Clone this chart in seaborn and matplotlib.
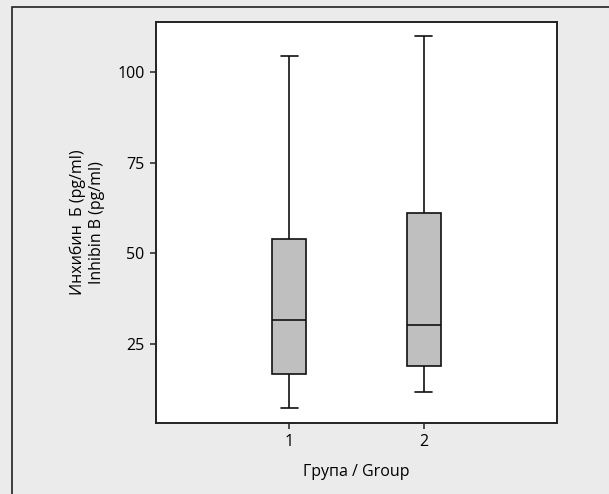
import pandas as pd
import seaborn as sns
import matplotlib.pyplot as plt
from matplotlib.patches import Rectangle

# Five-number summaries (min, Q1, median, Q3, max)
groups = ['1', '2']
group1_values = [7.4, 16.8, 31.7, 54.0, 104.3]
group2_values = [11.8, 19.0, 30.2, 61.2, 109.9]
y_ticks = [25, 50, 75, 100]

df = pd.DataFrame({
    'group': [groups[0]] * len(group1_values) + [groups[1]] * len(group2_values),
    'value': group1_values + group2_values,
})

sns.set_style('white')
plt.rcParams['font.family'] = ['Open Sans', 'DejaVu Sans']
plt.rcParams['text.color'] = 'black'
plt.rcParams['axes.labelcolor'] = 'black'
plt.rcParams['xtick.color'] = 'black'
plt.rcParams['ytick.color'] = 'black'

fig = plt.figure(figsize=(6.09, 4.94), dpi=100)
fig.patch.set_facecolor('#ebebeb')
# outer frame of the figure panel
fig.patches.append(Rectangle((12 / 609, -0.05), 1.2, 1 - 6.5 / 494 + 0.05,
                             transform=fig.transFigure, fill=False,
                             edgecolor='#222222', linewidth=1.2))

ax = fig.add_axes([0.2557, 0.1431, 0.6594, 0.8124])
ax.set_facecolor('white')

# with 5 points and whiskers at 0/100 percentiles, the box matches the summary exactly
sns.boxplot(data=df, x='group', y='value', order=groups, whis=(0, 100),
            width=0.25, color='#bfbfbf', saturation=1, linecolor='#111111',
            linewidth=1.2, showcaps=True, ax=ax)

ax.set_xlim(-0.99, 1.99)
ax.set_ylim(3.2, 113.7)
ax.set_yticks(y_ticks)
ax.tick_params(axis='both', direction='out', length=4, width=1.1,
               color='#222222', labelsize=11.5, pad=4, left=True, bottom=True)
for spine in ax.spines.values():
    spine.set_color('#222222')
    spine.set_linewidth(1.4)

ax.set_xlabel('Група / Group', fontsize=11.5, labelpad=10)
ax.set_ylabel('Инхибин  Б (pg/ml)\nInhibin B (pg/ml)', fontsize=11.5,
              labelpad=9, linespacing=1.25)

fig.savefig('out.png', dpi=100, facecolor=fig.get_facecolor())
